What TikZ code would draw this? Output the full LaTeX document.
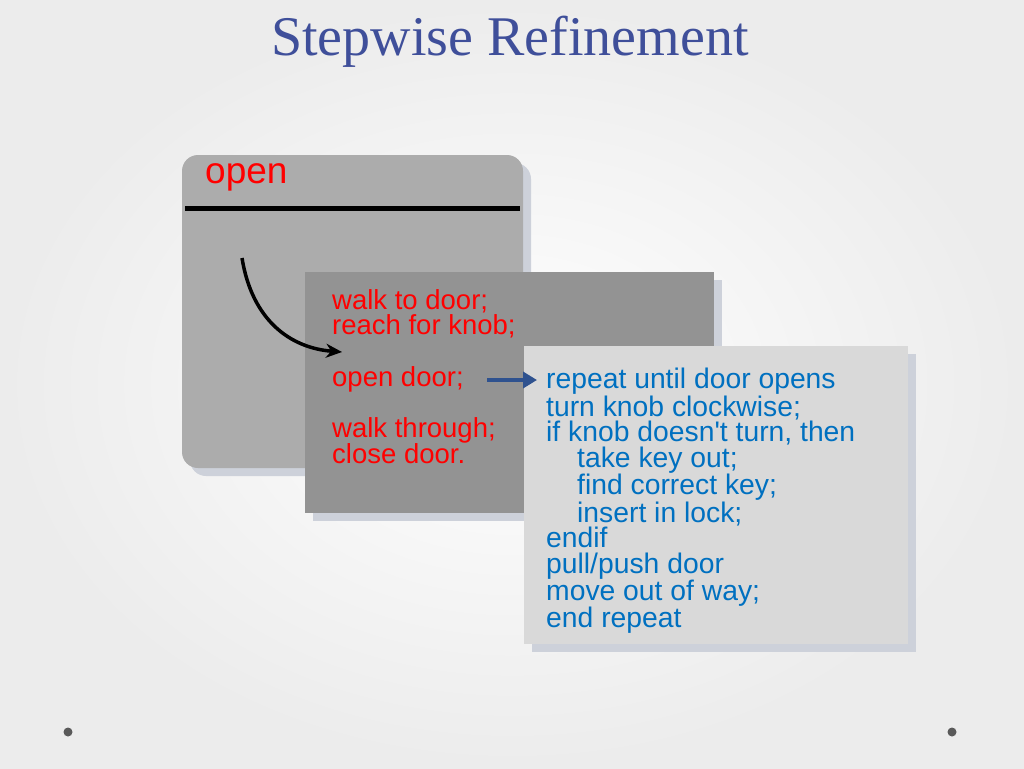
\documentclass[tikz,border=0pt]{standalone}
\usepackage{fontspec}
\setmainfont{Liberation Sans}
\newfontfamily\titlefont{Liberation Serif}
\usetikzlibrary{arrows.meta}
\definecolor{titleblue}{HTML}{3F4F9A}
\definecolor{codeblue}{HTML}{0070C0}
\definecolor{shadowgray}{HTML}{CDD1DA}
\definecolor{arrowblue}{HTML}{2F528F}
\tikzset{
  redtext/.style={anchor=north west,inner sep=0pt,text=red,align=left,
    font=\fontsize{27.5}{25}\selectfont},
  bluetext/.style={anchor=north west,inner sep=0pt,text=codeblue,align=left,
    font=\fontsize{28.3}{25.6}\selectfont},
}
\begin{document}
\begin{tikzpicture}[x=1pt,y=-1pt]
  \useasboundingbox (0,0) rectangle (1024,768);
  \shade[inner color=white,outer color=gray!15] (0,0) rectangle (1024,768);
  \node (title) at (510,42) {\titlefont\fontsize{56}{60}\selectfont\color{titleblue}Stepwise Refinement};

  % outer box
  \fill[shadowgray,rounded corners=16pt] (190,163) rectangle (531,476);
  \fill[gray!65,rounded corners=16pt] (182,155) rectangle (523,468);
  \node[redtext,font=\fontsize{37}{37}\selectfont] (open) at (205,163) {open};
  \draw[line width=5pt] (185,208) -- (520,208);

  % middle box
  \fill[shadowgray] (313,280) rectangle (722,521);
  \fill[gray!85] (305,272) rectangle (714,513);
  \node[redtext] (walk) at (332,289) {walk to door;\\reach for knob;};
  \node[redtext] (opendoor) at (332,366) {open door;};
  \node[redtext] (through) at (332,417) {walk through;\\close door.};

  % inner box
  \fill[shadowgray] (532,354) rectangle (916,652);
  \fill[gray!30] (524,346) rectangle (908,644);
  \node[bluetext] (code) at (546,368) {repeat until door opens\\turn knob clockwise;\\if knob doesn\textquotesingle t turn, then\\
    \hspace{31pt}take key out;\\\hspace{31pt}find correct key;\\\hspace{31pt}insert in lock;\\
    endif\\pull/push door\\move out of way;\\end repeat};

  \coordinate (start) at (242,258);
  \coordinate (stop) at (342,352);
  \draw[line width=3.5pt,-{Stealth[length=16pt,width=14pt]}] (start) .. controls (252,320) and (290,348) .. (stop);
  \coordinate (a) at (487,380);
  \coordinate (b) at (537,380);
  \draw[line width=4pt,arrowblue,-{Triangle[length=14pt,width=16pt]}] (a) -- (b);

  \fill[gray!70!black] (68,732) circle (4.5pt);
  \fill[gray!70!black] (952,732) circle (4.5pt);
\end{tikzpicture}
\end{document}
